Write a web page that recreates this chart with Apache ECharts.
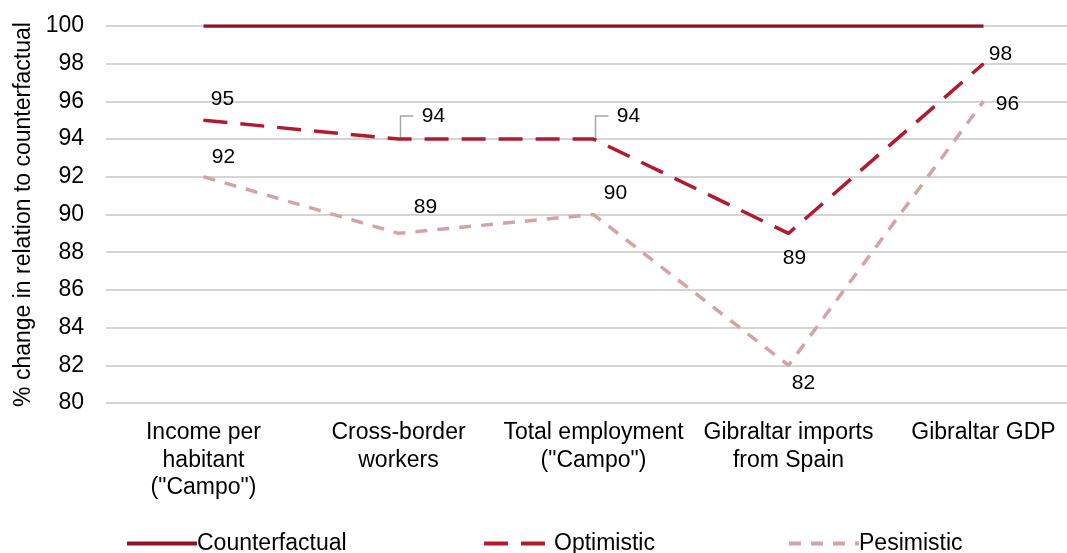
<!DOCTYPE html>
<html><head><meta charset="utf-8">
<script src="https://cdn.jsdelivr.net/npm/echarts@6/dist/echarts.min.js"></script>
<style>html,body{margin:0;padding:0;background:#fff}#c{width:1067px;height:553px}</style>
</head><body><div id="c"></div>
<script>
const categories = ['Income per\nhabitant\n("Campo")', 'Cross-border\nworkers', 'Total employment\n("Campo")', 'Gibraltar imports\nfrom Spain', 'Gibraltar GDP'];
const counterfactual = [100, 100, 100, 100, 100];
const optimistic = [95, 94, 94, 89, 98];
const pesimistic = [92, 89, 90, 82, 96];
const yTicks = { min: 80, max: 100, interval: 2 };

const optOffsets = [[19,-21],[35,-23],[35,-23],[6,25],[17,-9]];
const optLeader = [false,true,true,false,false];
const pesOffsets = [[20,-20],[27,-26],[22,-21],[15,18],[24,3]];

const font = 'Liberation Sans, Arial, sans-serif';
function labeled(vals, offs) {
  return vals.map((v,i) => ({ value: v, label: { offset: offs[i] } }));
}
const leaderData = optimistic.map((v,i) => optLeader[i] ? [i, v] : null).filter(Boolean);
const labelBase = { show: true, position: 'inside', color: '#000', fontSize: 21, fontFamily: font };
const chart = echarts.init(document.getElementById('c'));
chart.setOption({
  animation: false,
  grid: { left: 106, width: 975, top: 26, height: 377, outerBoundsMode: 'none', containLabel: false },
  xAxis: {
    type: 'category', data: categories, boundaryGap: true,
    axisLine: { show: false }, axisTick: { show: false },
    axisLabel: { color: '#000', fontSize: 23, fontFamily: font, margin: 16, lineHeight: 27.5, interval: 0 }
  },
  yAxis: {
    type: 'value', min: yTicks.min, max: yTicks.max, interval: yTicks.interval,
    name: '% change in relation to counterfactual', nameLocation: 'middle', nameGap: 66,
    nameTextStyle: { color: '#000', fontSize: 23, fontFamily: font },
    axisLine: { show: false }, axisTick: { show: false },
    axisLabel: { color: '#000', fontSize: 23, fontFamily: font, margin: 22 },
    splitLine: { lineStyle: { color: '#c6c6c6', width: 1.5 } }
  },
  legend: [
    { data: ['Counterfactual'], left: 125, top: 532 },
    { data: ['Optimistic'], left: 482, top: 532 },
    { data: ['Pesimistic'], left: 787, top: 532 }
  ].map(l => Object.assign(l, { padding: 0, itemWidth: 70, itemHeight: 24, itemGap: 4,
      itemStyle: { opacity: 0 }, lineStyle: { width: 4 },
      textStyle: { color: '#000', fontSize: 23, fontFamily: font, padding: [0,0,0,-5] } })),
  series: [
    { name: 'Counterfactual', type: 'line', data: counterfactual, symbol: 'none',
      lineStyle: { color: '#8c1627', width: 3.5 }, itemStyle: { color: '#8c1627' } },
    { name: 'Optimistic', type: 'line', data: labeled(optimistic, optOffsets),
      symbol: 'circle', symbolSize: 1, z: 3,
      lineStyle: { color: '#b11a31', width: 3.5, type: [24, 13] }, itemStyle: { color: '#b11a31' },
      label: labelBase },
    { name: 'Pesimistic', type: 'line', data: labeled(pesimistic, pesOffsets),
      symbol: 'circle', symbolSize: 1,
      lineStyle: { color: '#d4a3a6', width: 3.5, type: [12, 10] }, itemStyle: { color: '#d4a3a6' },
      label: labelBase },
    { name: 'leaders', type: 'custom', data: leaderData, z: 2, silent: true,
      renderItem: function (params, api) {
        const p = api.coord([api.value(0), api.value(1)]);
        return { type: 'polyline', shape: { points: [[p[0]+2, p[1]], [p[0]+2, p[1]-23], [p[0]+15, p[1]-23]] },
          style: { stroke: '#a6a6a6', lineWidth: 1.5, fill: null } };
      } }
  ]
});
</script></body></html>
